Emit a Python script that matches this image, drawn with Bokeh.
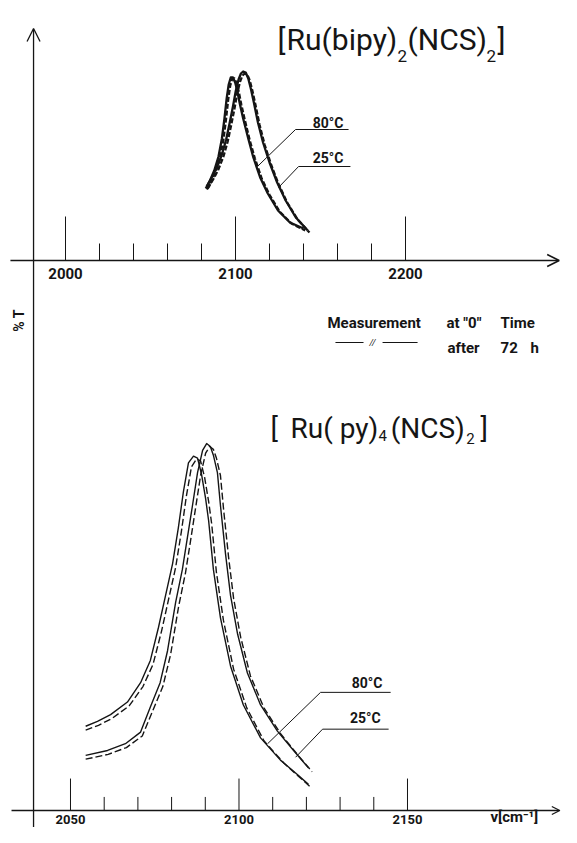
from bokeh.plotting import figure
from bokeh.models import Range1d, Arrow, OpenHead
from bokeh.core.properties import value
from bokeh.embed import file_html
from bokeh.resources import INLINE

# ---------------- DATA ----------------
# Upper panel: [Ru(bipy)2(NCS)2]   x = wavenumber (cm-1), y = %T (arbitrary)
top_major_ticks = [2000, 2100, 2200]
top_major_labels = ["2000", "2100", "2200"]
top_minor_ticks = [2020, 2040, 2060, 2080, 2120, 2140, 2160, 2180]

bipy_80_wn = [2082.5, 2085.0, 2087.5, 2090.0, 2092.0, 2093.5, 2094.8, 2096.0, 2097.2, 2098.5, 2099.8,
              2101.0, 2102.5, 2104.5, 2107.5, 2110.5, 2114.5, 2119.0, 2125.0, 2132.0, 2140.0]
bipy_80_T = [36.0, 40.0, 45.0, 52.0, 61.0, 71.0, 81.0, 88.0, 91.5, 91.5, 89.0,
             85.0, 78.5, 71.0, 61.0, 51.5, 41.5, 33.5, 25.0, 19.0, 16.0]
bipy_80_72h_wn = [2083.2, 2085.8, 2088.4, 2090.9, 2092.9, 2094.4, 2095.7, 2096.9, 2098.1, 2099.4, 2100.7,
                  2101.9, 2103.4, 2105.4, 2108.4, 2111.4, 2115.4, 2119.9, 2125.9, 2132.9, 2141.0]
bipy_80_72h_T = [35.5, 39.5, 44.5, 51.5, 60.5, 70.5, 80.5, 87.5, 91.0, 91.0, 88.5,
                 84.5, 78.0, 70.5, 60.0, 51.0, 41.0, 33.0, 24.5, 18.5, 15.0]

bipy_25_wn = [2083.0, 2086.0, 2089.0, 2092.0, 2094.5, 2096.5, 2098.5, 2100.2, 2101.8, 2103.2, 2104.5,
              2106.0, 2107.5, 2109.0, 2110.8, 2113.2, 2116.2, 2120.0, 2124.5, 2129.5, 2135.5, 2142.5]
bipy_25_T = [37.0, 41.5, 46.5, 53.0, 60.5, 68.5, 77.0, 85.0, 90.5, 93.5, 94.5,
             94.0, 91.0, 86.0, 79.0, 69.0, 59.0, 49.0, 39.0, 30.0, 21.5, 15.0]
bipy_25_72h_wn = [2083.7, 2086.8, 2089.9, 2092.9, 2095.4, 2097.4, 2099.4, 2101.1, 2102.7, 2104.1, 2105.4,
                  2106.9, 2108.4, 2109.9, 2111.7, 2114.1, 2117.1, 2120.9, 2125.4, 2130.4, 2136.5, 2143.5]
bipy_25_72h_T = [36.0, 40.5, 45.5, 52.0, 59.5, 67.5, 76.0, 84.0, 89.5, 92.5, 93.5,
                 93.0, 90.0, 85.0, 78.0, 68.0, 58.0, 48.0, 38.0, 29.0, 20.5, 14.0]

# Lower panel: [Ru(py)4(NCS)2]
bot_major_ticks = [2050, 2100, 2150]
bot_major_labels = ["2050", "2100", "2150"]
bot_minor_ticks = [2060, 2070, 2080, 2090, 2110, 2120, 2130, 2140]

py_80_wn = [2054.5, 2058.0, 2061.9, 2066.9, 2070.8, 2073.7, 2076.1, 2078.2, 2080.3, 2082.0, 2083.5,
            2085.0, 2086.5, 2087.7, 2088.9, 2090.1, 2091.0, 2092.4, 2094.5, 2097.5, 2101.3,
            2106.4, 2112.3, 2117.4, 2120.6]
py_80_T = [21.75, 23.0, 24.75, 28.0, 33.0, 38.75, 47.25, 55.5, 63.75, 73.0, 82.25,
           89.75, 91.5, 91.0, 86.75, 80.5, 74.75, 62.25, 49.75, 37.25, 27.25,
           18.75, 13.0, 9.25, 6.75]
py_80_72h_wn = [2054.5, 2058.3, 2062.3, 2067.4, 2071.5, 2074.5, 2077.0, 2079.1, 2081.2, 2082.9, 2084.4,
                2085.9, 2087.4, 2088.6, 2089.8, 2091.0, 2091.9, 2093.3, 2095.4, 2098.4, 2102.3,
                2107.4, 2113.3, 2118.4, 2121.6]
py_80_72h_T = [20.75, 22.0, 23.75, 27.0, 32.0, 37.75, 46.25, 54.5, 62.75, 72.0, 81.25,
               88.75, 90.75, 90.25, 86.0, 79.75, 74.0, 61.5, 49.0, 36.5, 26.5,
               18.0, 12.25, 8.25, 5.75]

py_25_wn = [2054.5, 2061.0, 2066.3, 2070.8, 2073.7, 2076.6, 2078.8, 2081.2, 2083.2, 2084.7, 2086.2,
            2087.7, 2089.2, 2090.4, 2091.5, 2092.4, 2093.6, 2094.5, 2096.0, 2097.5, 2099.6,
            2102.5, 2106.4, 2111.4, 2116.2, 2120.6]
py_25_T = [14.25, 15.5, 17.25, 20.25, 26.75, 33.0, 41.25, 53.75, 62.25, 70.5, 78.75,
           87.25, 93.0, 94.75, 94.0, 91.75, 87.25, 78.75, 66.25, 55.5, 45.5,
           35.5, 27.25, 20.5, 15.5, 11.0]
py_25_72h_wn = [2054.5, 2061.2, 2066.6, 2071.3, 2074.4, 2077.4, 2079.7, 2082.1, 2084.1, 2085.6, 2087.1,
                2088.6, 2090.1, 2091.3, 2092.4, 2093.3, 2094.5, 2095.4, 2096.9, 2098.4, 2100.5,
                2103.4, 2107.4, 2112.4, 2117.3, 2121.7]
py_25_72h_T = [13.25, 14.5, 16.25, 19.25, 25.75, 32.0, 40.25, 52.75, 61.25, 69.5, 78.0,
               86.5, 92.25, 94.0, 93.25, 91.0, 86.5, 78.0, 65.5, 54.75, 44.75,
               34.75, 26.5, 19.75, 14.5, 10.0]

# ---------------- FIGURE ----------------
INK = "#151515"
FONT = value("Roboto")

p = figure(width=561, height=827, output_backend="svg", toolbar_location=None,
           x_range=Range1d(1961.76, 2291.76), y_range=Range1d(-283.5, 130.0),
           x_axis_type=None, y_axis_type=None, min_border=0,
           outline_line_color=None, background_fill_color="white",
           border_fill_color="white")
p.min_border_left = p.min_border_right = p.min_border_top = p.min_border_bottom = 0
p.extra_x_ranges = {"b": Range1d(2029.23, 2195.70)}
p.extra_y_ranges = {"b": Range1d(-4.389, 209.14)}
p.xgrid.visible = False
p.ygrid.visible = False

B = dict(x_range_name="b", y_range_name="b")

# ---- axes (drawn as lines with arrow heads) ----
p.add_layout(Arrow(end=OpenHead(size=13, line_color=INK, line_width=1.3),
                   x_start=1981.2, y_start=-283.5, x_end=1981.2, y_end=116.0,
                   line_color=INK, line_width=1.3))
p.add_layout(Arrow(end=OpenHead(size=12, line_color=INK, line_width=1.6),
                   x_start=1967.6, y_start=0, x_end=2290.4, y_end=0,
                   line_color=INK, line_width=1.4))
p.add_layout(Arrow(end=OpenHead(size=8, line_color=INK, line_width=1.3),
                   x_start=2032.5, y_start=0, x_end=2195.2, y_end=0,
                   line_color=INK, line_width=1.4, **B))

# ---- ticks ----
p.segment(x0=top_major_ticks, y0=[0] * len(top_major_ticks), x1=top_major_ticks,
          y1=[22] * len(top_major_ticks), line_color=INK, line_width=1)
p.segment(x0=top_minor_ticks, y0=[0] * len(top_minor_ticks), x1=top_minor_ticks,
          y1=[8.5] * len(top_minor_ticks), line_color=INK, line_width=1)
p.text(x=top_major_ticks, y=[-6.5] * 3, text=top_major_labels, text_font=FONT,
       text_font_size="15px", text_font_style="bold", text_align="center",
       text_baseline="middle", text_color=INK)

p.segment(x0=bot_major_ticks, y0=[0] * 3, x1=bot_major_ticks, y1=[8.25] * 3,
          line_color=INK, line_width=1, **B)
p.segment(x0=bot_minor_ticks, y0=[0] * len(bot_minor_ticks), x1=bot_minor_ticks,
          y1=[3.5] * len(bot_minor_ticks), line_color=INK, line_width=1, **B)
p.text(x=bot_major_ticks, y=[-2.2] * 3, text=bot_major_labels, text_font=FONT,
       text_font_size="13px", text_font_style="bold", text_align="center",
       text_baseline="middle", text_color=INK, **B)

# ---- curves ----
for wn, T, dash in [(bipy_80_wn, bipy_80_T, "solid"), (bipy_25_wn, bipy_25_T, "solid"),
                    (bipy_80_72h_wn, bipy_80_72h_T, "5 2"), (bipy_25_72h_wn, bipy_25_72h_T, "5 2")]:
    p.line(wn, T, line_color=INK, line_width=2.3, line_dash=dash, line_join="round")

for wn, T, dash in [(py_80_wn, py_80_T, "solid"), (py_25_wn, py_25_T, "solid"),
                    (py_80_72h_wn, py_80_72h_T, "7 3"), (py_25_72h_wn, py_25_72h_T, "7 3")]:
    p.line(wn, T, line_color=INK, line_width=1.4, line_dash=dash, line_join="round", **B)

# ---- curve labels with leader lines ----
p.line([2112.9, 2135.3, 2166.5], [47.0, 65.5, 65.5], line_color=INK, line_width=1)
p.line([2125.3, 2137.1, 2167.6], [36.5, 47.0, 47.0], line_color=INK, line_width=1)
p.text(x=[2154.4, 2154.4], y=[69.0, 51.5], text=["80°C", "25°C"], text_font=FONT,
       text_font_size="14px", text_font_style="bold", text_align="center",
       text_baseline="middle", text_color=INK)

p.line([2108.5, 2124.2, 2145.0], [17.25, 30.5, 30.5], line_color=INK, line_width=1, **B)
p.line([2116.8, 2124.8, 2144.4], [13.75, 21.0, 21.0], line_color=INK, line_width=1, **B)
p.text(x=[2138.0, 2137.5], y=[33.0, 24.0], text=["80°C", "25°C"], text_font=FONT,
       text_font_size="14px", text_font_style="bold", text_align="center",
       text_baseline="middle", text_color=INK, **B)

# ---- titles ----
tkw = dict(text_font=FONT, text_color=INK, text_align="left", text_baseline="alphabetic")
p.text(x=[2124.7, 2130.0, 2201.2, 2254.1], y=[110.5] * 4,
       text=["[", "Ru(bipy)", "(NCS)", "]"], text_font_size="30px", **tkw)
p.text(x=[2195.3, 2247.6], y=[102.5, 102.5], text=["2", "2"], text_font_size="17px", **tkw)

p.text(x=[2109.35, 2115.3, 2145.0, 2171.7], y=[98.75] * 4,
       text=["[", "Ru( py)", "(NCS)", "]"], text_font_size="28px", **tkw, **B)
p.text(x=[2141.4, 2167.4], y=[96.75, 96.0], text=["4", "2"], text_font_size="15px", **tkw, **B)

# ---- y label ----
p.text(x=[1972.35], y=[-30.0], text=["% T"], angle=1.5708, text_font=FONT,
       text_font_size="14px", text_font_style="bold", text_align="center",
       text_baseline="middle", text_color=INK)

# ---- x label ----
p.text(x=[2174.6], y=[-1.8], text=["ν[cm⁻¹]"], text_font=FONT, text_font_size="15px",
       text_font_style="bold", text_align="left", text_baseline="middle",
       text_color=INK, **B)

# ---- legend ----
lkw = dict(text_font=FONT, text_font_size="15px", text_font_style="bold", text_color=INK,
           text_align="left", text_baseline="alphabetic")
p.text(x=[2154.1, 2224.1, 2255.9], y=[-31.0] * 3, text=["Measurement", 'at "0"', "Time"], **lkw)
p.text(x=[2224.7, 2255.9, 2273.5], y=[-43.5] * 3, text=["after", "72", "h"], **lkw)
p.segment(x0=[2158.8, 2186.5], y0=[-41.0, -41.0], x1=[2175.3, 2207.1], y1=[-41.0, -41.0],
          line_color=INK, line_width=1)
p.text(x=[2180.6], y=[-41.0], text=["//"], text_font=FONT, text_font_size="9px",
       text_font_style="italic", text_align="center", text_baseline="middle", text_color=INK)

open("out.html", "w").write(file_html(p, INLINE))
